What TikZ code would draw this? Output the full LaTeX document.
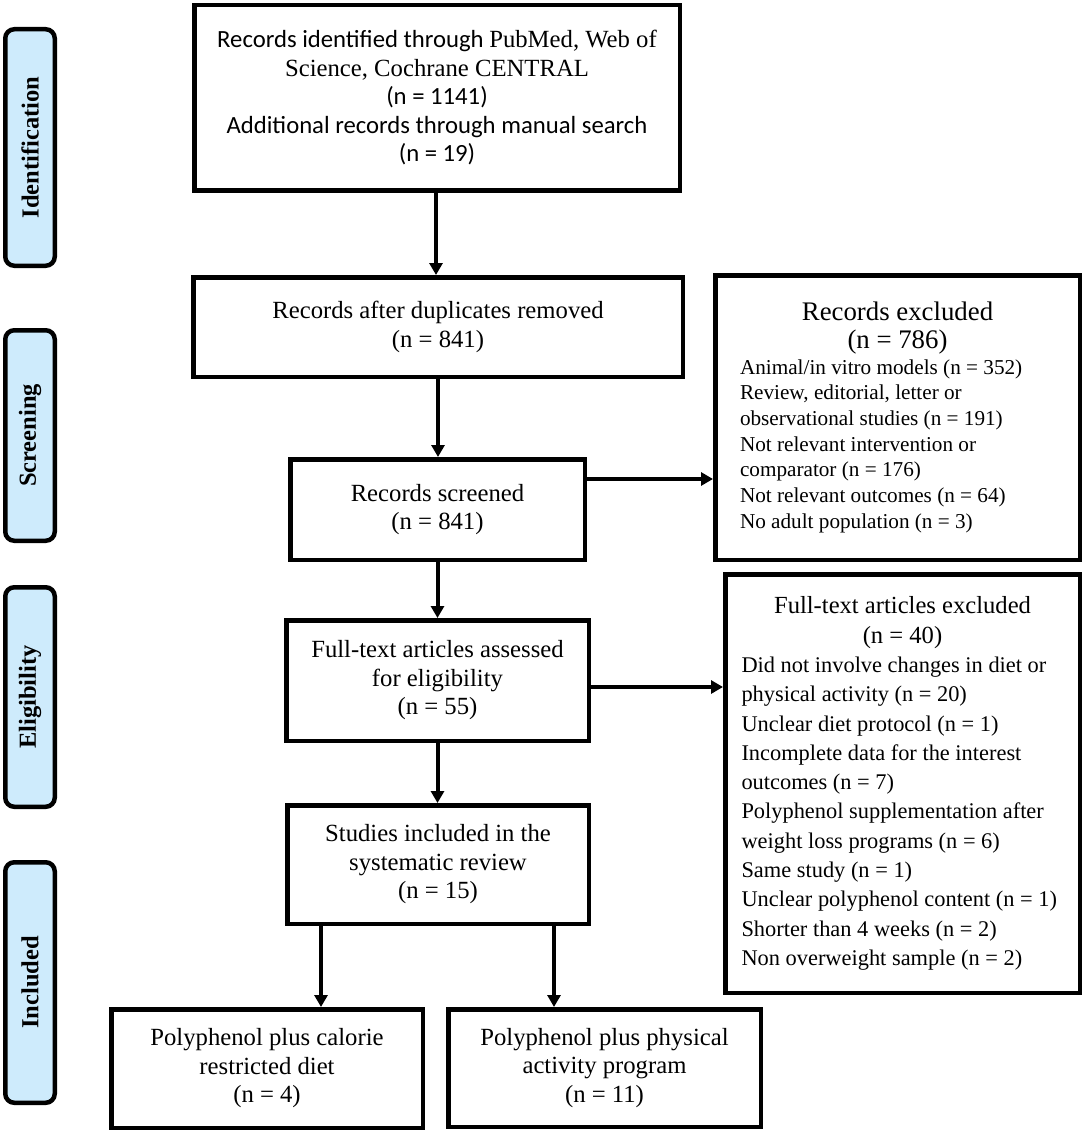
\documentclass[tikz,border=0pt]{standalone}
\usepackage{fontspec}
\setmainfont{Liberation Serif}
\newfontfamily\calibri{Carlito}
\usetikzlibrary{arrows.meta}
\newcommand\fsz[2]{\fontsize{#1}{#2}\selectfont}
\definecolor{sideblue}{RGB}{206,235,252}
\begin{document}
\begin{tikzpicture}[x=1pt,y=-1pt,
  box/.style={draw=black, line width=4.5pt, fill=white, rectangle, inner sep=0pt, align=center, font=\fsz{24.7}{28.5}},
  sidebox/.style={draw=black, line width=4.5pt, fill=sideblue, rounded corners=9pt, rectangle, inner sep=0pt, rotate=90, minimum height=49.5pt, font=\fsz{24.5}{28}\bfseries},
  arr/.style={line width=4pt, -{Triangle[width=13pt,length=12pt]}}]
\useasboundingbox (0,0) rectangle (1084,1134);
% side labels
\node[sidebox, minimum width=236.5pt] (sid) at (30,147.5) {Identification};
\node[sidebox, minimum width=210.5pt] (sscr) at (30,435.5) {Screening};
\node[sidebox, minimum width=219.5pt] (sel) at (30,697) {Eligibility};
\node[sidebox, minimum width=240.5pt] (sinc) at (30,982.5) {Included};
% main boxes
\node[box, minimum width=485.5pt, minimum height=185.5pt] (top) at (437,98)
  {{\calibri Records identified through }PubMed, Web of\\Science, Cochrane CENTRAL\\{\calibri (n = 1141)}\\{\calibri Additional records through manual search}\\{\calibri (n = 19)}};
\node[box, minimum width=489.5pt, minimum height=99.5pt] (dup) at (438,327)
  {Records after duplicates removed\\(n = 841)};
\node[box, minimum width=294.5pt, minimum height=100.5pt] (scr) at (437.5,509.5)
  {Records screened\\(n = 841)};
\node[box, minimum width=302.5pt, minimum height=120.5pt] (ft) at (437.5,680.5)
  {Full-text articles assessed\\for eligibility\\(n = 55)};
\node[box, minimum width=301.5pt, minimum height=118.5pt] (inc) at (438,864.5)
  {Studies included in the\\systematic review\\(n = 15)};
\node[box, minimum width=311.5pt, minimum height=118.5pt] (d1) at (267,1068.5)
  {Polyphenol plus calorie\\restricted diet\\(n = 4)};
\node[box, minimum width=312.5pt, minimum height=117.5pt] (d2) at (604.5,1068)
  {Polyphenol plus physical\\activity program\\(n = 11)};
% exclusion boxes
\node[box, align=flush left, minimum width=364.5pt, minimum height=284.5pt, text width=315pt, font=\fsz{21.2}{25.7}] (recex) at (897.5,417.5)
  {{\centering\fsz{26.8}{27.5}Records excluded\\(n = 786)\par}
   \raggedright Animal/in vitro models (n = 352)\\
   Review, editorial, letter or\\
   observational studies (n = 191)\\
   Not relevant intervention or\\
   comparator (n = 176)\\
   Not relevant outcomes (n = 64)\\
   No adult population (n = 3)\par};
\node[box, align=flush left, minimum width=354.5pt, minimum height=418.5pt, text width=322pt, font=\fsz{22.4}{29.3}] (ftex) at (902.5,783.5)
  {{\centering\fsz{24.6}{29.3}Full-text articles excluded\\(n = 40)\par}
   \raggedright Did not involve changes in diet or\\
   physical activity (n = 20)\\
   Unclear diet protocol (n = 1)\\
   Incomplete data for the interest\\
   outcomes (n = 7)\\
   Polyphenol supplementation after\\
   weight loss programs (n = 6)\\
   Same study (n = 1)\\
   \mbox{Unclear polyphenol content (n = 1)}\\
   Shorter than 4 weeks (n = 2)\\
   Non overweight sample (n = 2)\par};
% connectors
\draw[arr] ([xshift=-1pt]top.south) -- ([xshift=-1pt]top.south |- dup.north);
\draw[arr] (dup.south) -- (dup.south |- scr.north);
\draw[arr] ([yshift=30.5pt]scr.east) -- ([yshift=30.5pt]scr.east -| recex.west);
\draw[arr] (scr.south) -- (scr.south |- ft.north);
\draw[arr] ([yshift=-6.5pt]ft.east) -- ([yshift=-6.5pt]ft.east -| ftex.west);
\draw[arr] (ft.south) -- (ft.south |- inc.north);
\draw[arr] ([xshift=-117pt]inc.south) -- ([xshift=-117pt]inc.south |- d1.north);
\draw[arr] ([xshift=116pt]inc.south) -- ([xshift=116pt]inc.south |- d2.north);
\end{tikzpicture}
\end{document}
